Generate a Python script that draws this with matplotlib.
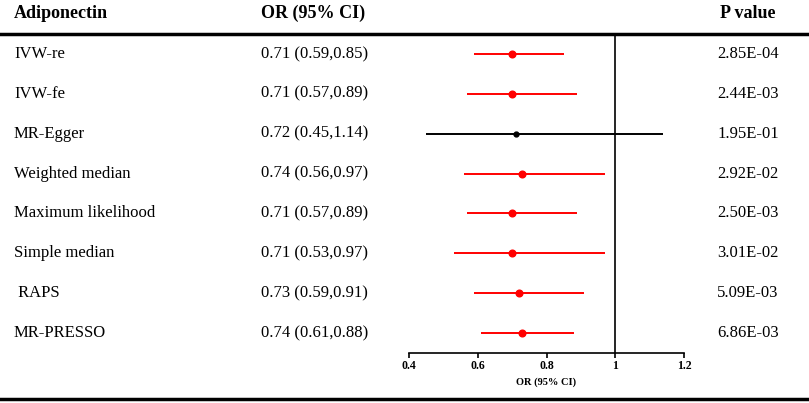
import matplotlib
matplotlib.use("Agg")
import matplotlib.pyplot as plt
import matplotlib.transforms as mtransforms
from matplotlib.lines import Line2D

plt.rcParams['font.family'] = ['Liberation Serif', 'DejaVu Serif']

methods = ['IVW-re', 'IVW-fe', 'MR-Egger', 'Weighted median',
           'Maximum likelihood', 'Simple median', ' RAPS', 'MR-PRESSO']
or_text = ['0.71 (0.59,0.85)', '0.71 (0.57,0.89)', '0.72 (0.45,1.14)',
           '0.74 (0.56,0.97)', '0.71 (0.57,0.89)', '0.71 (0.53,0.97)',
           '0.73 (0.59,0.91)', '0.74 (0.61,0.88)']
p_text = ['2.85E-04', '2.44E-03', '1.95E-01', '2.92E-02',
          '2.50E-03', '3.01E-02', '5.09E-03', '6.86E-03']
est = [0.70, 0.70, 0.71, 0.73, 0.70, 0.70, 0.72, 0.73]
low = [0.59, 0.57, 0.45, 0.56, 0.57, 0.53, 0.59, 0.61]
high = [0.85, 0.89, 1.14, 0.97, 0.89, 0.97, 0.91, 0.88]
pvals = [2.85e-04, 2.44e-03, 1.95e-01, 2.92e-02, 2.50e-03, 3.01e-02, 5.09e-03, 6.86e-03]

W, H = 809, 403
fig = plt.figure(figsize=(W / 100, H / 100), dpi=100)

ax = fig.add_axes([409 / W, (H - 353) / H, 275 / W, (353 - 33) / H])
ax.set_xlim(0.4, 1.2)
ax.set_ylim(7.502, -0.527)

for i in range(len(methods)):
    c = 'red' if pvals[i] < 0.05 else 'black'
    ms = 4.8 if c == 'red' else 3.5
    ax.plot([low[i], high[i]], [i, i], color=c, lw=1.4, solid_capstyle='butt')
    ax.plot(est[i], i, 'o', color=c, ms=ms)

ax.axvline(1, color='black', lw=1.2)

for s in ['top', 'right', 'left']:
    ax.spines[s].set_visible(False)
ax.spines['bottom'].set_linewidth(1.2)
ax.set_yticks([])
ax.set_xticks([0.4, 0.6, 0.8, 1.0, 1.2])
ax.set_xticklabels(['0.4', '0.6', '0.8', '1', '1.2'])
ax.tick_params(axis='x', direction='out', length=3.6, width=1.2, labelsize=8.5, pad=1.5)
for lab in ax.get_xticklabels():
    lab.set_fontweight('bold')
ax.set_xlabel('OR (95% CI)', fontsize=7.5, fontweight='bold', labelpad=4)

trans = mtransforms.blended_transform_factory(fig.transFigure, ax.transData)
for i in range(len(methods)):
    fig.text(14 / W, i, methods[i], transform=trans, fontsize=12, va='center', ha='left')
    fig.text(261 / W, i, or_text[i], transform=trans, fontsize=12, va='center', ha='left')
    fig.text(748 / W, i, p_text[i], transform=trans, fontsize=12, va='center', ha='center')

hy = 1 - 13 / H
fig.text(14 / W, hy, 'Adiponectin', fontsize=13, fontweight='bold', va='center', ha='left')
fig.text(261 / W, hy, 'OR (95% CI)', fontsize=13, fontweight='bold', va='center', ha='left')
fig.text(748 / W, hy, 'P value', fontsize=13, fontweight='bold', va='center', ha='center')

fig.add_artist(Line2D([0, 1], [1 - 33.5 / H, 1 - 33.5 / H], color='black', lw=2.5, transform=fig.transFigure))
fig.add_artist(Line2D([0, 1], [1 - 399 / H, 1 - 399 / H], color='black', lw=2.5, transform=fig.transFigure))

fig.savefig('out.png', dpi=100)
